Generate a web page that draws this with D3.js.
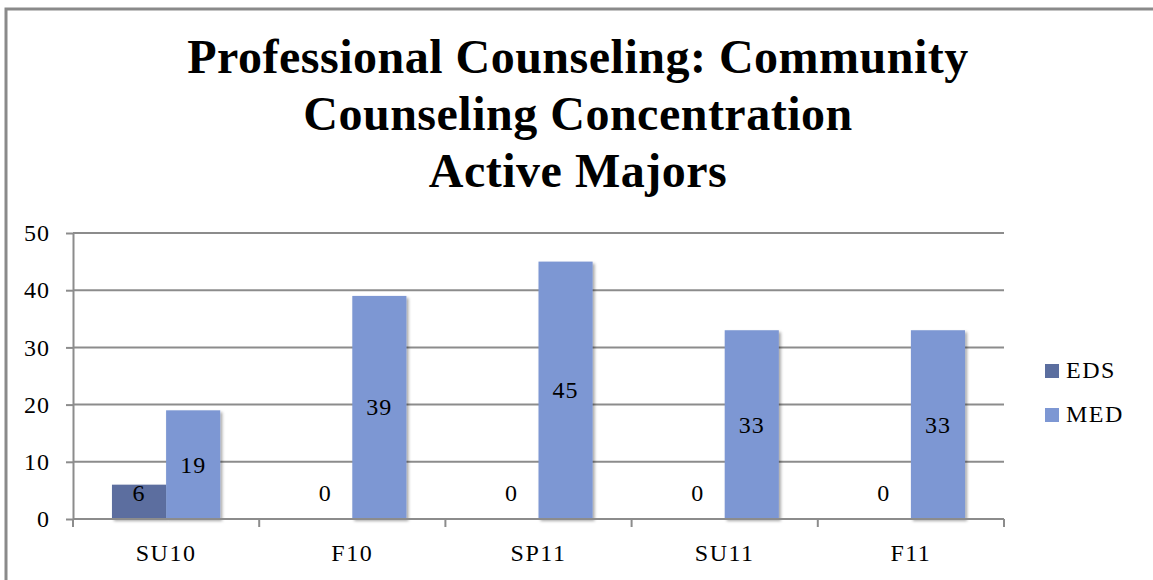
<!DOCTYPE html>
<html>
<head>
<meta charset="utf-8">
<script src="https://cdn.jsdelivr.net/npm/d3@7"></script>
<style>
  body { margin: 0; background: #fff; }
  svg text { font-family: "Liberation Serif", "Times New Roman", serif; fill: #000; }
</style>
</head>
<body>
<svg id="chart" width="1153" height="580"></svg>
<script>
// data
var terms = ["SU10", "F10", "SP11", "SU11", "F11"];
var seriesNames = ["EDS", "MED"];
var eds = [6, 0, 0, 0, 0];
var med = [19, 39, 45, 33, 33];
var yTicks = [0, 10, 20, 30, 40, 50];
var titleLines = ["Professional Counseling: Community", "Counseling Concentration", "Active Majors"];

var colors = { EDS: "#5b6e9f", MED: "#7d97d3" };

var svg = d3.select("#chart"),
    margin = { top: 233, left: 73, bottom: 61, right: 149 },
    width = +svg.attr("width"),
    height = +svg.attr("height");

// rows for the grouped bars
var rows = terms.map(function (t, i) {
    return { term: t, EDS: eds[i], MED: med[i] };
});

var defs = svg.append("defs");
var shadow = defs.append("filter").attr("id", "shadow")
    .attr("x", "-20%").attr("y", "-20%").attr("width", "140%").attr("height", "140%");
shadow.append("feDropShadow")
    .attr("dx", 2).attr("dy", 2).attr("stdDeviation", 1.5)
    .attr("flood-color", "#000").attr("flood-opacity", 0.35);

// outer chart border
svg.append("rect")
    .attr("x", 6).attr("y", 9)
    .attr("width", width + 20).attr("height", height + 20)
    .attr("fill", "none")
    .attr("stroke", "#8a8a8a")
    .attr("stroke-width", 3);

var x0 = d3.scaleBand()
    .domain(terms)
    .range([margin.left, width - margin.right])
    .paddingInner(0)
    .paddingOuter(0);

var x1 = d3.scaleBand()
    .domain(seriesNames)
    .range([0, x0.bandwidth()])
    .paddingInner(0)
    .paddingOuter(0.72);

var y = d3.scaleLinear()
    .domain([0, 50])
    .range([height - margin.bottom, margin.top]);

// gridlines
svg.append("g").attr("class", "grid")
    .selectAll("line")
    .data(yTicks.slice(1))
    .enter().append("line")
    .attr("x1", margin.left).attr("x2", x0.range()[1])
    .attr("y1", d => y(d)).attr("y2", d => y(d))
    .attr("stroke", "#8c8c8c")
    .attr("stroke-width", 2);

// y axis
var yAxis = svg.append("g")
    .attr("transform", `translate(${margin.left},0)`)
    .call(d3.axisLeft(y).tickValues(yTicks).tickSize(7).tickPadding(16).tickSizeOuter(0));
yAxis.select(".domain").attr("stroke", "#8c8c8c").attr("stroke-width", 2);
yAxis.selectAll(".tick line").attr("stroke", "#8c8c8c").attr("stroke-width", 2);
yAxis.selectAll(".tick text")
    .style("font-size", "24px")
    .style("letter-spacing", "1px")
    .attr("fill", "#000");

// bars
var group = svg.append("g").selectAll("g")
    .data(rows)
    .enter().append("g")
    .attr("transform", d => `translate(${x0(d.term)},0)`);

group.selectAll("rect")
    .data(d => seriesNames.map(k => ({ key: k, value: d[k] })))
    .enter().append("rect")
    .filter(d => d.value > 0)
    .attr("x", d => x1(d.key))
    .attr("width", x1.bandwidth())
    .attr("y", d => y(d.value))
    .attr("height", d => y(0) - y(d.value))
    .attr("fill", d => colors[d.key])
    .attr("filter", "url(#shadow)");

// value labels, centred in the bar but kept above the axis
group.selectAll("text")
    .data(d => seriesNames.map(k => ({ key: k, value: d[k] })))
    .enter().append("text")
    .attr("text-anchor", "middle")
    .attr("x", d => x1(d.key) + x1.bandwidth() / 2)
    .attr("y", d => Math.min((y(d.value) + y(0)) / 2, y(0) - 26) + 8)
    .style("font-size", "24px")
    .style("letter-spacing", "1px")
    .text(d => d.value);

// x axis
var xAxis = svg.append("g")
    .attr("transform", `translate(0,${y(0)})`);
xAxis.append("line")
    .attr("x1", margin.left).attr("x2", x0.range()[1])
    .attr("stroke", "#8c8c8c").attr("stroke-width", 2);
xAxis.selectAll(".sep")
    .data(terms.concat(["end"]))
    .enter().append("line")
    .attr("class", "sep")
    .attr("x1", (d, i) => i < terms.length ? x0(d) : x0.range()[1])
    .attr("x2", (d, i) => i < terms.length ? x0(d) : x0.range()[1])
    .attr("y1", 0).attr("y2", 8)
    .attr("stroke", "#8c8c8c").attr("stroke-width", 2);
xAxis.selectAll(".lab")
    .data(terms)
    .enter().append("text")
    .attr("class", "lab")
    .attr("text-anchor", "middle")
    .attr("x", d => x0(d) + x0.bandwidth() / 2)
    .attr("y", 42)
    .style("font-size", "24px")
    .style("letter-spacing", "1.5px")
    .text(d => d);

// title
svg.append("g").selectAll("text")
    .data(titleLines)
    .enter().append("text")
    .attr("text-anchor", "middle")
    .attr("x", 578)
    .attr("y", (d, i) => 73 + i * 57)
    .style("font-size", "48px")
    .style("font-weight", "bold")
    .style("letter-spacing", "0.5px")
    .text(d => d);

// legend
var legend = svg.append("g").selectAll("g")
    .data(seriesNames)
    .enter().append("g")
    .attr("transform", (d, i) => `translate(1045,${364 + i * 44})`);
legend.append("rect")
    .attr("width", 14).attr("height", 14)
    .attr("fill", d => colors[d]);
legend.append("text")
    .attr("x", 21).attr("y", 14)
    .style("font-size", "24px")
    .style("letter-spacing", "1.5px")
    .text(d => d);
</script>
</body>
</html>
